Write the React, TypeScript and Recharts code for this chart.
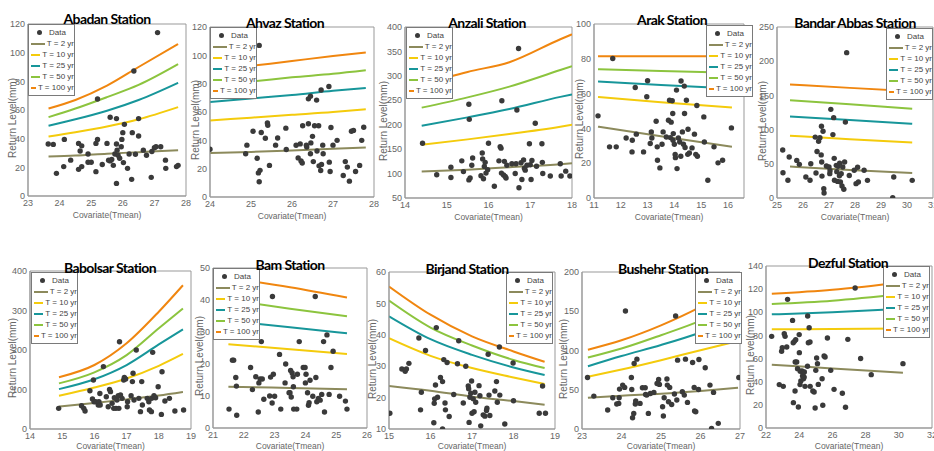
import React from 'react';
import { ComposedChart, Scatter, Line, XAxis, YAxis, ReferenceArea } from 'recharts';

const SERIES_LABELS = ['T = 2 yr', 'T = 10 yr', 'T = 25 yr', 'T = 50 yr', 'T = 100 yr'];
const SERIES_COLORS = ['#8c8a5c', '#f4cb0c', '#17969a', '#8cc43e', '#f0860f'];

// scatter points [covariate, return level]
const abadanPts: number[][] = [
  [23.64, 36.3], [23.8, 36], [23.9, 15.8], [24.13, 20.5], [24.15, 39.5], [24.35, 25], [24.6, 36.7], [24.65, 31.4],
  [24.7, 35], [24.6, 18.6], [24.7, 20.5], [24.9, 29.3], [24.9, 23.5], [25.0, 23.5], [25.15, 17], [25.15, 36.7],
  [25.2, 39.5], [25.2, 67.7], [25.35, 22], [25.5, 36.7], [25.55, 25], [25.6, 24.5], [25.6, 54.9], [25.65, 25.5],
  [25.7, 21.4], [25.75, 29.3], [25.8, 36.3], [25.8, 54], [25.8, 8.8], [25.82, 32], [25.85, 28.4], [25.9, 26.3],
  [25.95, 34.4], [25.97, 39.5], [26.0, 44.2], [26.02, 23.3], [26.05, 50], [26.15, 19.3], [26.2, 29.3], [26.28, 11.6],
  [26.3, 44.2], [26.35, 87.2], [26.4, 29.1], [26.5, 54], [26.5, 41.9], [26.65, 32], [26.75, 28.4], [26.9, 13],
  [26.92, 31], [27.0, 33.7], [27.05, 34.4], [27.1, 114], [27.2, 34.4], [27.35, 25], [27.36, 19.3], [27.7, 20.5],
  [27.75, 21.4],
];
// return level curves: [x, T2, T10, T25, T50, T100]
const abadanRL: number[][] = [
  [23.65, 27.5, 41.5, 49, 55, 61],
  [24.5, 28.2, 44.5, 53.5, 61, 67],
  [25.5, 29.5, 48.5, 59.5, 69, 77],
  [26.5, 30.6, 53.5, 67, 77.5, 90],
  [27.75, 32, 62, 79, 92, 106],
];

const ahvazPts: number[][] = [
  [24.0, 33.7], [24.87, 30.5], [24.9, 36.6], [25.05, 46.4], [25.15, 27.4], [25.18, 17], [25.2, 107], [25.22, 18.8],
  [25.25, 45.5], [25.2, 10.8], [25.35, 41.5], [25.4, 52.3], [25.41, 50.6], [25.45, 22.3], [25.6, 36.6], [25.65, 41.7],
  [25.85, 48.6], [25.86, 33.5], [26.1, 36.5], [26.15, 27.6], [26.2, 37.5], [26.22, 25.5], [26.25, 24], [26.26, 50.3],
  [26.35, 36.6], [26.36, 35.3], [26.4, 51.7], [26.4, 69.3], [26.45, 71.2], [26.45, 30.5], [26.46, 38.2], [26.5, 42.8],
  [26.52, 25], [26.55, 50.3], [26.6, 68.4], [26.61, 32.5], [26.65, 50.3], [26.66, 22], [26.7, 18.7], [26.72, 23],
  [26.71, 75.5], [26.75, 36.6], [26.76, 30.5], [26.9, 78], [26.91, 24.6], [26.95, 49.1], [26.93, 18], [27.0, 36.6],
  [27.1, 40], [27.25, 15.2], [27.3, 25], [27.35, 21.1], [27.4, 11.2], [27.45, 46.4], [27.5, 47], [27.55, 18],
  [27.65, 22.3], [27.7, 40], [27.75, 49.2],
];
const ahvazRL: number[][] = [
  [24, 31, 54, 67, 79, 89],
  [25, 31.8, 56, 69.5, 81.5, 92.5],
  [26, 32.8, 58, 72, 84.5, 96],
  [27, 34, 60, 75, 87, 99.5],
  [27.8, 35, 62, 77, 89.5, 102],
];

const anzaliPts: number[][] = [
  [14.42, 162], [14.76, 97.6], [15.1, 112.8], [15.1, 92], [15.36, 126], [15.4, 104], [15.53, 242], [15.54, 211],
  [15.53, 87], [15.56, 91], [15.6, 117], [15.62, 132], [15.82, 95.5], [15.85, 142], [15.86, 130], [15.88, 89.5],
  [15.9, 114.5], [15.92, 123], [15.94, 101], [15.98, 108], [16.0, 162], [16.14, 74], [16.25, 126], [16.28, 155],
  [16.3, 152], [16.32, 249], [16.31, 101], [16.36, 97], [16.38, 125], [16.4, 94], [16.42, 91], [16.44, 117],
  [16.56, 120], [16.64, 100], [16.66, 120], [16.68, 230], [16.72, 356], [16.73, 71], [16.78, 122], [16.8, 88],
  [16.84, 128], [16.86, 111], [16.88, 107], [16.92, 117], [16.98, 161], [17.0, 118], [17.02, 88], [17.04, 127],
  [17.12, 203], [17.15, 115], [17.28, 161], [17.29, 123], [17.3, 100], [17.48, 95], [17.72, 120], [17.74, 95],
  [17.85, 105], [17.95, 95],
];
const anzaliRL: number[][] = [
  [14.4, 104, 159, 198, 235, 282],
  [15.5, 108, 170, 215, 256, 308],
  [16.5, 113, 181, 232, 278, 328],
  [17.72, 119, 196, 257, 312, 375],
  [18, 121, 200, 262, 320, 385],
];

const arakPts: number[][] = [
  [11.15, 47.2], [11.58, 29.4], [11.7, 80.2], [11.83, 29.4], [12.2, 34.5], [12.42, 26.5], [12.43, 33.2], [12.54, 63.5],
  [12.58, 36.7], [12.85, 26.5], [12.97, 58.2], [13.0, 67.4], [13.1, 31.3], [13.14, 38], [13.16, 34.5], [13.32, 44.1],
  [13.36, 29.4], [13.37, 21.7], [13.46, 17.3], [13.54, 30.9], [13.58, 38], [13.7, 35.1], [13.78, 44.7], [13.82, 56.2],
  [13.85, 34.7], [13.88, 43.6], [13.92, 55.9], [13.94, 48.6], [13.95, 33.2], [13.96, 37], [14.0, 30.9], [14.03, 25],
  [14.04, 23.2], [14.08, 62], [14.15, 34.5], [14.1, 16.9], [14.2, 32.2], [14.24, 24], [14.25, 67.2], [14.3, 38],
  [14.34, 30.9], [14.37, 64.3], [14.38, 48.6], [14.4, 29], [14.45, 56.2], [14.5, 25.1], [14.51, 39.5], [14.56, 25.9],
  [14.66, 28.8], [14.75, 36.7], [14.8, 25.1], [14.84, 53.2], [14.86, 24], [15.1, 46.6], [15.12, 32.2], [15.25, 10.2],
  [15.48, 29.4], [15.63, 20.2], [15.8, 21.7], [16.13, 40.3],
];
const arakRL: number[][] = [
  [11.15, 41, 58, 67, 74, 81.5],
  [13.5, 35.5, 55, 65, 73, 81.5],
  [16.15, 29.5, 52, 63, 72, 81.5],
];

const bandarPts: number[][] = [
  [25.22, 70.2], [25.23, 37], [25.42, 26], [25.47, 60], [25.76, 55], [25.86, 49.2], [26.11, 30.7], [26.27, 26],
  [26.3, 50], [26.47, 89], [26.5, 36.5], [26.54, 68], [26.6, 83], [26.65, 88], [26.7, 63], [26.71, 105],
  [26.72, 52.6], [26.73, 32], [26.77, 97.5], [26.8, 13.6], [26.81, 7.3], [26.9, 46.8], [27.0, 45.3], [27.03, 35.6],
  [27.04, 40], [27.07, 129.6], [27.15, 92.7], [27.18, 117.5], [27.2, 58], [27.21, 26], [27.28, 47.7], [27.3, 38.5],
  [27.33, 24.3], [27.35, 46.3], [27.4, 32.6], [27.41, 50.7], [27.44, 23.4], [27.47, 35.6], [27.5, 17.5], [27.53, 45.3],
  [27.57, 12.7], [27.6, 52.6], [27.63, 111], [27.68, 212.5], [27.78, 33], [27.97, 40.5], [28.04, 21], [28.1, 45],
  [28.13, 23.4], [28.35, 40.5], [28.48, 25.8], [29.45, 0.5], [29.49, 30.7], [30.2, 25.8],
];
const bandarRL: number[][] = [
  [25.5, 46, 91, 119, 143, 166],
  [27.8, 41, 86, 114, 137, 161],
  [30.2, 36.5, 81, 108.5, 130.5, 156],
];

const babolsarPts: number[][] = [
  [14.89, 52.3], [15.6, 59], [15.67, 52.3], [15.71, 45.6], [15.86, 97], [15.94, 76], [15.97, 124], [15.99, 69],
  [16.04, 69], [16.12, 60.8], [16.14, 69], [16.17, 90], [16.18, 60.8], [16.28, 158], [16.37, 81.5], [16.43, 56.2],
  [16.47, 100], [16.5, 94.5], [16.55, 65], [16.6, 52.3], [16.62, 79], [16.67, 52.3], [16.7, 73.4], [16.74, 84.4],
  [16.76, 52.3], [16.78, 221], [16.81, 86], [16.86, 77.6], [16.91, 124], [16.93, 130.8], [16.97, 126.6], [17.02, 56.2],
  [17.03, 69], [17.14, 84.4], [17.18, 120], [17.2, 141], [17.23, 73.4], [17.3, 200], [17.38, 77.6], [17.43, 43.9],
  [17.47, 120], [17.49, 60.8], [17.64, 77.6], [17.69, 69], [17.71, 48], [17.77, 43.9], [17.78, 77.6], [17.81, 194],
  [17.85, 84.4], [17.9, 79], [17.98, 107], [18.08, 37], [18.1, 145], [18.19, 71], [18.33, 77.6], [18.5, 45.6],
  [18.77, 48],
];
const babolsarRL: number[][] = [
  [14.9, 57, 84, 101, 115.5, 131],
  [16, 66, 105, 126, 143.5, 162],
  [17, 75, 128, 162, 187, 217],
  [18, 85, 160, 214, 255, 297],
  [18.75, 94, 190, 252, 305, 364],
];

const bamPts: number[][] = [
  [21.52, 5.9], [21.63, 21.2], [21.67, 21.2], [21.74, 15.8], [21.76, 13.1], [21.77, 4], [22.22, 18.9], [22.28, 12],
  [22.39, 16], [22.47, 5], [22.49, 14.1], [22.53, 15.3], [22.57, 27], [22.6, 15.3], [22.65, 9], [22.84, 10],
  [22.87, 15.9], [22.92, 7.8], [22.93, 41.1], [22.96, 16.8], [23.0, 9.9], [23.16, 23], [23.2, 5.9], [23.34, 14.1],
  [23.36, 20], [23.47, 11], [23.5, 11], [23.52, 18], [23.54, 9.7], [23.57, 17.2], [23.6, 16], [23.61, 12.9],
  [23.62, 5.9], [23.72, 5.9], [23.74, 16.8], [23.8, 27], [23.93, 18.9], [23.99, 18.9], [24.0, 14.1], [24.02, 16.8],
  [24.07, 11], [24.1, 7.1], [24.12, 7.9], [24.15, 14.9], [24.24, 9.9], [24.32, 41.1], [24.34, 15.8], [24.37, 8.2],
  [24.42, 9.2], [24.48, 8.7], [24.53, 10.5], [24.59, 27], [24.62, 5], [24.7, 29.1], [24.77, 10.5], [24.83, 18.9],
  [24.9, 24], [25.11, 9.9], [25.3, 8.4], [25.35, 5.9],
];
const bamRL: number[][] = [
  [21.5, 12.9, 26.2, 33.5, 40, 47],
  [23.5, 12.5, 24.6, 31.5, 37.3, 44],
  [25.35, 12.1, 23.1, 29.6, 34.9, 40.8],
];

const birjandPts: number[][] = [
  [15.02, 15], [15.31, 29.1], [15.39, 28.4], [15.42, 29.1], [15.48, 30.9], [15.72, 39], [15.76, 16.1], [15.78, 21.7],
  [15.88, 35], [16.08, 12], [16.09, 18.2], [16.1, 19.6], [16.12, 24], [16.14, 42.3], [16.17, 20.1], [16.24, 26.4],
  [16.29, 25.1], [16.29, 10], [16.32, 32.1], [16.35, 18.3], [16.36, 16.1], [16.4, 31.2], [16.45, 14], [16.56, 21],
  [16.65, 30.8], [16.68, 38.1], [16.79, 18.3], [16.85, 30], [16.91, 23.7], [16.92, 22.8], [16.93, 12.1], [16.95, 20.1],
  [16.97, 21.4], [16.99, 25.3], [17.0, 15], [17.03, 19.6], [17.05, 15.5], [17.07, 21.7], [17.09, 18.5], [17.17, 23.8],
  [17.19, 20.6], [17.21, 11], [17.27, 14.5], [17.31, 14.1], [17.35, 15.9], [17.36, 16.6], [17.39, 33.8], [17.41, 20.8],
  [17.43, 14.3], [17.55, 22.1], [17.59, 25.1], [17.61, 18.5], [17.66, 36.1], [17.67, 20.8], [17.79, 11.6], [17.99, 31],
  [18.0, 19], [18.62, 15], [18.7, 23.7], [18.77, 15],
];
const birjandRL: number[][] = [
  [15, 23.7, 38.9, 45.9, 50.9, 55.4],
  [16, 22.2, 33.3, 38.6, 42.3, 46.4],
  [17, 20.3, 29.4, 33.6, 36.6, 39.5],
  [18, 18.9, 26.4, 29.6, 32, 34.7],
  [18.75, 17.7, 24.3, 27.2, 29.4, 31.4],
];

const bushehrPts: number[][] = [
  [23.14, 65.7], [23.3, 41.9], [23.65, 24.2], [23.78, 39.8], [23.88, 31.8], [23.93, 32.6], [23.94, 39.8], [23.95, 50.8],
  [24.03, 55.9], [24.1, 150.4], [24.08, 53], [24.25, 65.7], [24.26, 50.4], [24.28, 14.4], [24.31, 19.9], [24.32, 83.5],
  [24.35, 31.8], [24.36, 35.6], [24.39, 89], [24.47, 32.6], [24.53, 52.5], [24.6, 52.5], [24.61, 44], [24.64, 43.2],
  [24.68, 19.9], [24.73, 45.3], [24.82, 46.6], [24.9, 58], [24.94, 63.1], [24.96, 56.8], [25.04, 28.4], [25.06, 16.5],
  [25.08, 39.8], [25.15, 63.6], [25.16, 55.9], [25.19, 34.7], [25.22, 53], [25.27, 31.3], [25.34, 44.5], [25.37, 144],
  [25.4, 36.9], [25.42, 87.7], [25.54, 47.5], [25.59, 43.2], [25.62, 89], [25.67, 33.9], [25.8, 84.7], [25.84, 53],
  [25.85, 22.9], [25.88, 22], [25.95, 50.4], [25.96, 88.6], [26.12, 78], [26.24, 55.9], [26.28, 0.8], [26.33, 46.6],
  [26.45, 7.2], [26.97, 65.7],
];
const bushehrRL: number[][] = [
  [23.15, 39.8, 66.5, 80, 91, 101],
  [24, 42.5, 75.8, 93, 102.5, 113],
  [25, 45, 87.7, 107, 119.5, 132],
  [26, 48.5, 100.4, 123, 138, 155.5],
  [26.95, 52.5, 112, 142, 162, 183],
];

const dezfulPts: number[][] = [
  [22.34, 79.2], [22.8, 37.5], [22.94, 66.3], [22.98, 69.4], [23.04, 36], [23.1, 81.5], [23.15, 79.2], [23.25, 70],
  [23.3, 111.2], [23.6, 93], [23.64, 73.7], [23.65, 21.9], [23.71, 74.9], [23.75, 32], [23.76, 57], [23.79, 76.3],
  [23.85, 57], [23.9, 51.3], [23.95, 18.2], [24.0, 80.7], [24.01, 65.1], [24.05, 37.5], [24.06, 49], [24.1, 40.6],
  [24.17, 49.3], [24.2, 45], [24.25, 47.8], [24.26, 42.6], [24.3, 44], [24.31, 48.4], [24.35, 36], [24.5, 53.3],
  [24.51, 96.8], [24.55, 73.7], [24.6, 86.7], [24.65, 74.3], [24.66, 36], [24.82, 32], [24.9, 31.1], [24.96, 17.3],
  [25.0, 49.8], [25.05, 60.5], [25.1, 55.6], [25.15, 37.7], [25.38, 42.6], [25.42, 19.6], [25.5, 62.2], [25.56, 61.4],
  [25.7, 77.8], [25.9, 49.8], [26.1, 33.4], [26.6, 30], [26.79, 17.9], [26.93, 76.6], [27.37, 121], [27.7, 60],
  [28.34, 46.1], [30.25, 55.6],
];
const dezfulRL: number[][] = [
  [22.35, 54.7, 85.3, 98.2, 107.2, 116],
  [26, 51.5, 85.6, 100, 110, 119.5],
  [30.25, 47.8, 86, 103, 116, 126],
];

type PanelCfg = {
  title: string;
  titleX: number;
  titleY: number;
  pts: number[][];
  rl: number[][];
  px: number;
  py: number;
  pw: number;
  ph: number;
  xDom: [number, number];
  xTicks: number[];
  yDom: [number, number];
  yTicks: number[];
  legX: number;
  legY: number;
  ylabX: number;
  xlabGap: number;
};

const panels: PanelCfg[] = [
  { title: 'Abadan Station', titleX: 107, titleY: 18, pts: abadanPts, rl: abadanRL, px: 28, py: 24, pw: 158, ph: 172,
    xDom: [23, 28], xTicks: [23, 24, 25, 26, 27, 28], yDom: [0, 120], yTicks: [0, 20, 40, 60, 80, 100, 120], legX: 28, legY: 24, ylabX: 12, xlabGap: 19 },
  { title: 'Ahvaz Station', titleX: 285, titleY: 22, pts: ahvazPts, rl: ahvazRL, px: 210, py: 27, pw: 164, ph: 170,
    xDom: [24, 28], xTicks: [24, 25, 26, 27, 28], yDom: [0, 120], yTicks: [0, 20, 40, 60, 80, 100, 120], legX: 210, legY: 27, ylabX: 195, xlabGap: 19 },
  { title: 'Anzali Station', titleX: 487, titleY: 22, pts: anzaliPts, rl: anzaliRL, px: 405, py: 27, pw: 167, ph: 171,
    xDom: [14, 18], xTicks: [14, 15, 16, 17, 18], yDom: [50, 400], yTicks: [50, 100, 150, 200, 250, 300, 350, 400], legX: 406, legY: 27, ylabX: 383, xlabGap: 19 },
  { title: 'Arak Station', titleX: 672, titleY: 19, pts: arakPts, rl: arakRL, px: 594, py: 24, pw: 150, ph: 174,
    xDom: [11, 16.6], xTicks: [11, 12, 13, 14, 15, 16], yDom: [0, 100], yTicks: [0, 20, 40, 60, 80, 100], legX: 706, legY: 25, ylabX: 579, xlabGap: 19 },
  { title: 'Bandar Abbas Station', titleX: 855, titleY: 22, pts: bandarPts, rl: bandarRL, px: 777, py: 27, pw: 156, ph: 171,
    xDom: [25, 31], xTicks: [25, 26, 27, 28, 29, 30, 31], yDom: [0, 250], yTicks: [0, 50, 100, 150, 200, 250], legX: 886, legY: 28, ylabX: 762, xlabGap: 19 },
  { title: 'Babolsar Station', titleX: 110, titleY: 267, pts: babolsarPts, rl: babolsarRL, px: 30, py: 271, pw: 161, ph: 158,
    xDom: [14, 19], xTicks: [14, 15, 16, 17, 18, 19], yDom: [0, 400], yTicks: [0, 100, 200, 300, 400], legX: 31, legY: 272, ylabX: 12, xlabGap: 17 },
  { title: 'Bam Station', titleX: 290, titleY: 264, pts: bamPts, rl: bamRL, px: 213, py: 268, pw: 154, ph: 160,
    xDom: [21, 26], xTicks: [21, 22, 23, 24, 25, 26], yDom: [0, 50], yTicks: [0, 10, 20, 30, 40, 50], legX: 213, legY: 268, ylabX: 199, xlabGap: 18 },
  { title: 'Birjand Station', titleX: 467, titleY: 268, pts: birjandPts, rl: birjandRL, px: 389, py: 272, pw: 166, ph: 157,
    xDom: [15, 19], xTicks: [15, 16, 17, 18, 19], yDom: [10, 60], yTicks: [10, 20, 30, 40, 50, 60], legX: 506, legY: 272, ylabX: 372, xlabGap: 17 },
  { title: 'Bushehr Station', titleX: 663, titleY: 268, pts: bushehrPts, rl: bushehrRL, px: 582, py: 272, pw: 158, ph: 157,
    xDom: [23, 27], xTicks: [23, 24, 25, 26, 27], yDom: [0, 200], yTicks: [0, 50, 100, 150, 200], legX: 695, legY: 272, ylabX: 563, xlabGap: 17 },
  { title: 'Dezful Station', titleX: 848, titleY: 262, pts: dezfulPts, rl: dezfulRL, px: 766, py: 266, pw: 166, ph: 162,
    xDom: [22, 32], xTicks: [22, 24, 26, 28, 30, 32], yDom: [0, 140], yTicks: [0, 20, 40, 60, 80, 100, 120, 140], legX: 883, legY: 266, ylabX: 750, xlabGap: 18 },
];

const AXIS_FONT = '"Liberation Sans Narrow", "Liberation Sans", Arial, sans-serif';

function Legend({ x, y }: { x: number; y: number }) {
  return (
    <div
      style={{
        position: 'absolute', left: x, top: y, width: 47, background: '#fff', border: '1px solid #7a7a7a',
        fontFamily: AXIS_FONT, fontSize: 8, color: '#444', padding: '2px 0', boxSizing: 'border-box', zIndex: 2,
      }}
    >
      <div style={{ display: 'flex', alignItems: 'center', height: 11 }}>
        <div style={{ width: 20, display: 'flex', justifyContent: 'center' }}>
          <div style={{ width: 5, height: 5, borderRadius: 3, background: '#3a3a3a' }} />
        </div>
        <span>Data</span>
      </div>
      {SERIES_LABELS.map((lab, i) => (
        <div key={lab} style={{ display: 'flex', alignItems: 'center', height: 11, whiteSpace: 'nowrap' }}>
          <div style={{ width: 16, height: 2, background: SERIES_COLORS[i], margin: '0 2px 0 2px' }} />
          <span>{lab}</span>
        </div>
      ))}
    </div>
  );
}

function Panel(p: PanelCfg) {
  const L = 30, T = 4, R = 6, B = 16;
  const pts = p.pts.map(([x, y]) => ({ x, y }));
  const lines = SERIES_LABELS.map((_, i) => p.rl.map((r) => ({ x: r[0], y: r[i + 1] })));
  const tickStyle = { fontSize: 9, fill: '#666', fontFamily: AXIS_FONT };
  return (
    <>
      <div style={{ position: 'absolute', left: p.px - L, top: p.py - T, zIndex: 1 }}>
        <ComposedChart width={p.pw + L + R} height={p.ph + T + B} margin={{ top: T, right: R, left: 0, bottom: 0 }}>
          <XAxis
            type="number" dataKey="x" domain={p.xDom} ticks={p.xTicks} allowDataOverflow interval={0}
            height={B} tick={tickStyle} stroke="#999" tickLine={false} tickSize={3} tickMargin={1}
          />
          <YAxis
            type="number" domain={p.yDom} ticks={p.yTicks} allowDataOverflow interval={0}
            width={L} tick={tickStyle} stroke="#999" tickLine={false} tickSize={2} tickMargin={1}
          />
          <ReferenceArea x1={p.xDom[0]} x2={p.xDom[1]} y1={p.yDom[0]} y2={p.yDom[1]} fill="none" stroke="#999" strokeWidth={1} />
          <Scatter
            data={pts} dataKey="y" isAnimationActive={false}
            shape={(s: any) => <circle cx={s.cx} cy={s.cy} r={2.7} fill="#3a3a3a" />}
          />
          {lines.map((d, i) => (
            <Line
              key={i} data={d} dataKey="y" type="monotone" stroke={SERIES_COLORS[i]} strokeWidth={2}
              dot={false} isAnimationActive={false}
            />
          ))}
        </ComposedChart>
      </div>
      <div
        style={{
          position: 'absolute', left: p.ylabX, top: p.py + p.ph / 2 + 8, transform: 'translate(-50%, -50%) rotate(-90deg)',
          whiteSpace: 'nowrap', fontFamily: '"Liberation Sans", Arial, sans-serif', fontSize: 10, color: '#666', zIndex: 1,
        }}
      >
        Return Level(mm)
      </div>
      <div
        style={{
          position: 'absolute', left: p.px + p.pw / 2, top: p.py + p.ph + p.xlabGap, transform: 'translate(-50%, -50%)',
          whiteSpace: 'nowrap', fontFamily: AXIS_FONT, fontSize: 8.5, lineHeight: '10px', color: '#666', zIndex: 1,
        }}
      >
        Covariate(Tmean)
      </div>
      <Legend x={p.legX} y={p.legY} />
      <div
        style={{
          position: 'absolute', left: p.titleX, top: p.titleY, transform: 'translate(-50%, -50%)', whiteSpace: 'nowrap',
          fontFamily: 'Lato, "Open Sans", sans-serif', fontWeight: 700, fontSize: 14, letterSpacing: -0.6, color: '#000', zIndex: 3,
        }}
      >
        {p.title}
      </div>
    </>
  );
}

export default function App() {
  return (
    <div style={{ position: 'relative', width: 934, height: 451, overflow: 'hidden', background: '#fff' }}>
      <style>{'body{margin:0}'}</style>
      {panels.map((p) => (
        <Panel key={p.title} {...p} />
      ))}
    </div>
  );
}
